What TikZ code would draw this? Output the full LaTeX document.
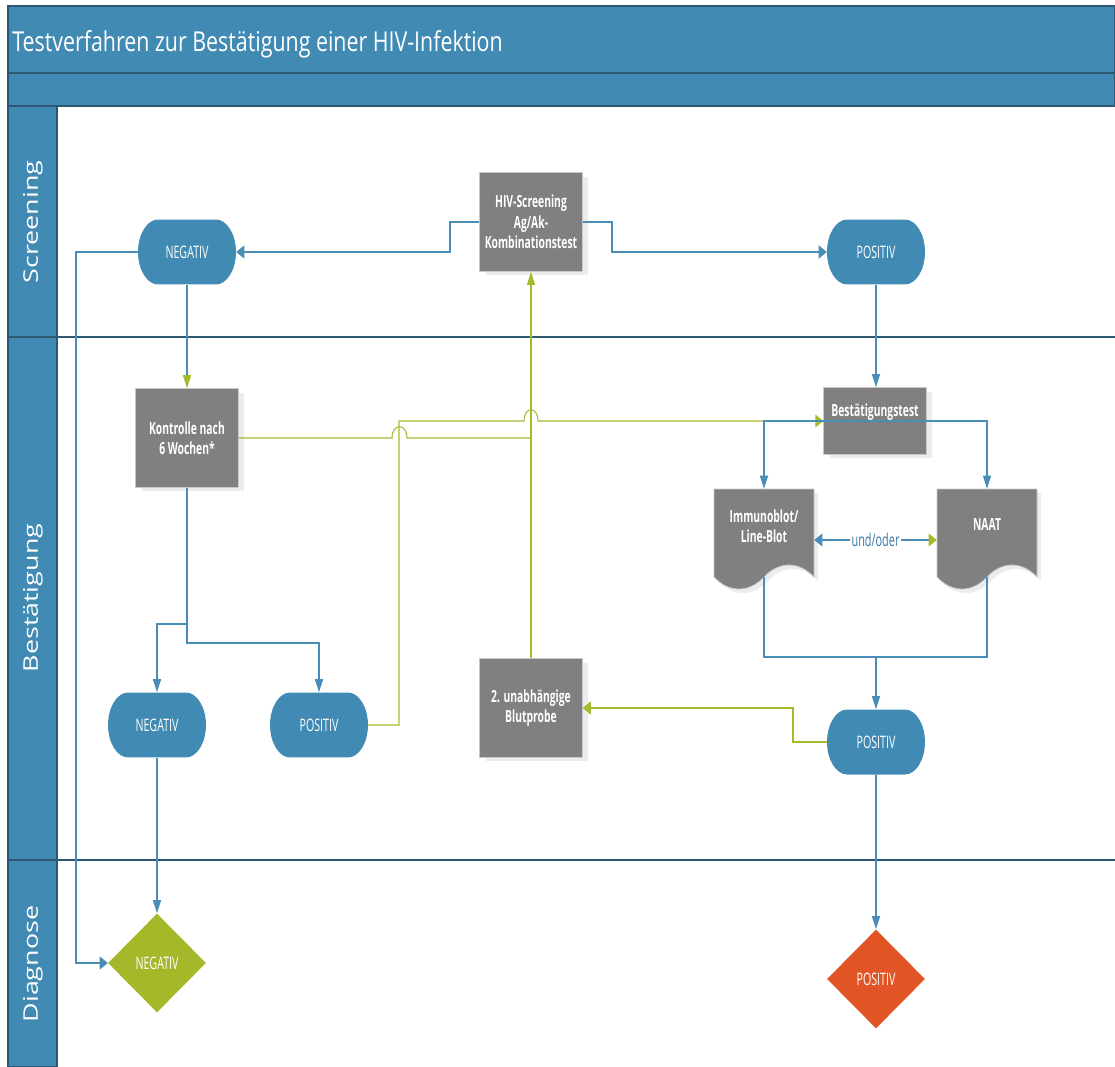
\documentclass[tikz,border=0pt]{standalone}
\usepackage{fontspec}
\setmainfont{Open Sans}
\usetikzlibrary{shapes,arrows.meta,positioning,shadows}

\definecolor{hdrblue}{HTML}{418AB3}
\definecolor{laneline}{HTML}{2C5874}
\definecolor{flowblue}{HTML}{4A8DB8}
\definecolor{flowgreen}{HTML}{A6BA2E}
\definecolor{boxgray}{HTML}{808080}
\definecolor{boxedge}{HTML}{C8C8C8}
\definecolor{shadegray}{HTML}{ECECEC}
\definecolor{negdiam}{HTML}{A5B82A}
\definecolor{posdiam}{HTML}{E05426}
\definecolor{labelblue}{HTML}{3B79A3}

% document shape with wavy bottom, centred at (#1,#2)
\newcommand{\docshape}[2]{%
  \fill[shadegray] (#1-46,#2-40) -- (#1+54,#2-40) -- (#1+54,#2+48) .. controls (#1+39,#2+32) and (#1+19,#2+32) .. (#1+4,#2+48) .. controls (#1-11,#2+64) and (#1-31,#2+64) .. (#1-46,#2+48) -- cycle;
  \filldraw[fill=boxgray, draw=boxedge, line width=0.4pt] (#1-50,#2-44) -- (#1+50,#2-44) -- (#1+50,#2+44) .. controls (#1+35,#2+28) and (#1+15,#2+28) .. (#1,#2+44) .. controls (#1-15,#2+60) and (#1-35,#2+60) .. (#1-50,#2+44) -- cycle;
}

\begin{document}
\begin{tikzpicture}
[x=0.02cm, y=-0.02cm,
  lane/.style={fill=hdrblue, draw=laneline, line width=1pt},
  procbox/.style={rectangle, fill=boxgray, draw=boxedge, line width=0.4pt, minimum width=3.32cm, minimum height=1.98cm, inner sep=1pt, xscale=0.62, text=white, align=center, font=\fontsize{9.5}{11.6}\selectfont\bfseries, copy shadow={shadow xshift=0.12cm, shadow yshift=-0.08cm, fill=shadegray, draw=none}},
  termnode/.style={rounded rectangle, fill=hdrblue, minimum width=3.23cm, minimum height=1.3cm, inner sep=1pt, xscale=0.62, text=white, font=\fontsize{9.8}{12}\selectfont},
  decnode/.style={diamond, minimum width=3.16cm, minimum height=1.98cm, inner sep=0pt, xscale=0.62, text=white, font=\fontsize{9.8}{12}\selectfont},
  docnode/.style={rectangle, minimum width=3.23cm, minimum height=1.76cm, inner sep=0pt, xscale=0.62},
  doctext/.style={text=white, align=center, inner sep=0pt, xscale=0.62, font=\fontsize{9.5}{11.6}\selectfont\bfseries},
  lanetext/.style={rotate=90, text=white, inner sep=0pt, font=\fontsize{15.3}{18}\selectfont},
  bline/.style={draw=flowblue, line width=0.6pt},
  gline/.style={draw=flowgreen, line width=0.6pt},
  tipv/.style={-{Triangle[length=7.4pt,width=4.6pt]}},
  tiph/.style={-{Triangle[length=4.6pt,width=7.4pt]}}
]
  \useasboundingbox (0,0) rectangle (1115,1067);

  % header and lanes
  \draw[lane] (8,6) rectangle (1115,73);
  \draw[lane] (8,73) rectangle (1115,106);
  \draw[lane] (8,106) rectangle (57,1067);
  \draw[laneline, line width=1pt] (8,337) -- (1115,337);
  \draw[laneline, line width=1pt] (8,860) -- (1115,860);

  \node[anchor=base west, text=white, inner sep=0pt, xscale=0.78, font=\fontsize{15.6}{18}\selectfont] (title) at (12,52) {Testverfahren zur Bestätigung einer HIV-Infektion};
  \node[lanetext] (lscreen) at (33,222) {\scalebox{1}[0.75]{Screening}};
  \node[lanetext] (lconfirm) at (33,598) {\scalebox{1}[0.75]{Bestätigung}};
  \node[lanetext] (ldiag) at (33,964) {\scalebox{1}[0.75]{Diagnose}};

  % nodes
  \node[procbox] (screen) at (531,222) {HIV-Screening\\Ag/Ak-\\Kombinationstest};
  \node[termnode] (negS) at (187,252) {NEGATIV};
  \node[termnode] (posS) at (876,252) {POSITIV};
  \node[procbox] (check) at (187,438) {Kontrolle nach\\6 Wochen*};
  \node[procbox, minimum height=1.34cm, label={[doctext, anchor=north, yshift=-0.32cm]north:Bestätigungstest}] (confirm) at (875,421) {};

  \docshape{764}{533}
  \docshape{987}{533}
  \node[docnode, label={[doctext, yshift=0.14cm]center:{Immunoblot/\\Line-Blot}}] (blot) at (764,533) {};
  \node[docnode, label={[doctext, yshift=0.16cm]center:NAAT}] (naat) at (987,533) {};

  \node[termnode] (negB) at (157,725) {NEGATIV};
  \node[termnode] (posB) at (319,725) {POSITIV};
  \node[procbox] (sample) at (531,708) {2. unabhängige\\Blutprobe};
  \node[termnode] (posR) at (876,742) {POSITIV};
  \node[decnode, fill=negdiam] (negD) at (157,963) {NEGATIV};
  \node[decnode, fill=posdiam] (posD) at (876,979) {POSITIV};

  % screening
  \draw[bline,tiph] (screen.west) -- (450,222) |- (negS.east);
  \draw[bline,tiph] (screen.east) -- (612,222) |- (posS.west);
  \draw[bline,tiph] (negS.west) -- (76,252) |- (negD.west);
  \draw[bline,-{Triangle[length=7.4pt,width=4.6pt,color=flowgreen]}] (negS.south) -- (check.north);
  \draw[bline,tipv] (posS.south) -- (posS.south |- confirm.north);

  % second sample and control loops
  \draw[gline] (check.east) -- (392,438) .. controls (392,423) and (407,423) .. (407,438) -- (531,438);
  \draw[gline,tipv] (sample.north) -- (screen.south);
  \draw[gline,tiph] (posB.east) -- (399,725) -- (399,421) -- (524,421) .. controls (524,406) and (538,406) .. (538,421) -- (confirm.west);
  \draw[gline,tiph] (posR.west) -- (793,742) |- (sample.east);

  % confirmation tests
  \draw[bline,tipv] (confirm.east) -- (confirm.west) -| (blot.north);
  \draw[bline,tipv] (confirm.west) -- (confirm.east) -| (naat.north);
  \draw[bline,{Triangle[length=4.6pt,width=7.4pt]}-{Triangle[length=4.6pt,width=7.4pt,color=flowgreen]}] ([yshift=-0.14cm]blot.east) -- node[fill=white, text=labelblue, inner sep=1pt, xscale=0.62, font=\fontsize{10}{12}\selectfont] (andor) {und/oder} ([yshift=-0.14cm]naat.west);
  \coordinate (merge) at (876,657);
  \draw[bline] (blot.south) |- (merge) -| (naat.south);
  \draw[bline,tipv] (merge) -- (posR.north);

  % control after 6 weeks
  \draw[bline,tipv] (check.south) -- (187,624) -| (negB.north);
  \draw[bline,tipv] (check.south) -- (187,643) -| (posB.north);
  \draw[bline,tipv] (negB.south) -- (negD.north);
  \draw[bline,tipv] (posR.south) -- (posD.north);
\end{tikzpicture}
\end{document}
